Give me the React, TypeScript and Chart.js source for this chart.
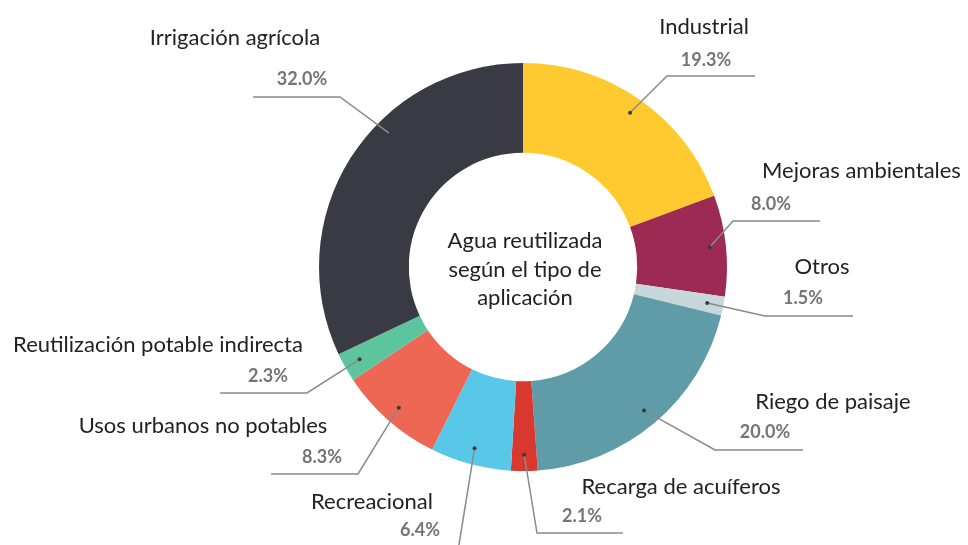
import React, { useEffect, useRef } from "react";
import { Chart, registerables } from "chart.js";

Chart.register(...registerables);

const categories = [
  "Industrial",
  "Mejoras ambientales",
  "Otros",
  "Riego de paisaje",
  "Recarga de acuíferos",
  "Recreacional",
  "Usos urbanos no potables",
  "Reutilización potable indirecta",
  "Irrigación agrícola",
];
const values = [19.3, 8.0, 1.5, 20.0, 2.1, 6.4, 8.3, 2.3, 32.0];
const colors = [
  "#FFCA2F",
  "#9C2A52",
  "#C8D7DC",
  "#5F9CA8",
  "#D9382E",
  "#59C7E8",
  "#EE6654",
  "#5CC59D",
  "#393A43",
];
const centerLines = ["Agua reutilizada", "según el tipo de", "aplicación"];

// Label layout (offsets from the doughnut centre, px)
type LabelLayout = {
  frac: number; // where along the arc the leader starts
  elbow: [number, number];
  endX: number | null;
  pct: [number, number];
  name: [number, number];
  nameAlign?: CanvasTextAlign;
};
const labelLayout: LabelLayout[] = [
  { frac: 0.5, elbow: [144, -191], endX: 232, pct: [183, -207], name: [181, -240] },
  { frac: 0.5, elbow: [210, -46], endX: 297, pct: [248, -63], name: [239, -96], nameAlign: "left" },
  { frac: 0.5, elbow: [242, 49], endX: 330, pct: [280, 31], name: [299, 0] },
  { frac: 0.5, elbow: [192, 183], endX: 280, pct: [242, 165], name: [310, 135] },
  { frac: 0.5, elbow: [14, 266], endX: 100, pct: [59, 249], name: [158, 220] },
  { frac: 0.5, elbow: [-66, 290], endX: null, pct: [-103, 263], name: [-151, 235] },
  { frac: 0.5, elbow: [-165, 207], endX: -252, pct: [-201, 190], name: [-320, 159] },
  { frac: 0.5, elbow: [-216, 126], endX: -303, pct: [-255, 109], name: [-365, 78] },
  { frac: 0.61, elbow: [-183, -170], endX: -270, pct: [-221, -188], name: [-288, -229] },
];

const leaderPlugin = {
  id: "leaderLabels",
  afterDatasetsDraw(chart: any) {
    const ctx: CanvasRenderingContext2D = chart.ctx;
    const meta = chart.getDatasetMeta(0);
    ctx.save();
    meta.data.forEach((arc: any, i: number) => {
      const L = labelLayout[i];
      const cx = arc.x;
      const cy = arc.y;
      const a = arc.startAngle + L.frac * (arc.endAngle - arc.startAngle);
      const r = arc.outerRadius * 0.92;
      const dx = cx + Math.cos(a) * r;
      const dy = cy + Math.sin(a) * r;
      const ex = cx + L.elbow[0];
      const ey = cy + L.elbow[1];
      ctx.strokeStyle = "#8a8a8a";
      ctx.lineWidth = 1.5;
      ctx.beginPath();
      ctx.moveTo(dx, dy);
      ctx.lineTo(ex, ey);
      if (L.endX !== null) ctx.lineTo(cx + L.endX, ey);
      ctx.stroke();
      ctx.fillStyle = "#3a3a3a";
      ctx.beginPath();
      ctx.arc(dx, dy, 2, 0, Math.PI * 2);
      ctx.fill();

      ctx.textBaseline = "middle";
      ctx.textAlign = "center";
      ctx.fillStyle = "#757575";
      ctx.font = "bold 18px Lato";
      ctx.fillText(values[i].toFixed(1) + "%", cx + L.pct[0], cy + L.pct[1]);
      ctx.fillStyle = "#222222";
      ctx.font = "22px Lato";
      ctx.textAlign = L.nameAlign || "center";
      ctx.fillText(categories[i], cx + L.name[0], cy + L.name[1]);
    });
    // centre text
    const first = meta.data[0];
    if (first) {
      ctx.fillStyle = "#222222";
      ctx.font = "22px Lato";
      ctx.textAlign = "center";
      ctx.textBaseline = "middle";
      centerLines.forEach((t, k) => {
        ctx.fillText(t, first.x + 2, first.y - 26 + k * 28.5);
      });
    }
    ctx.restore();
  },
};

export default function App() {
  const ref = useRef<HTMLCanvasElement | null>(null);
  useEffect(() => {
    if (!ref.current) return;
    const chart = new Chart(ref.current, {
      type: "doughnut",
      data: {
        labels: categories,
        datasets: [
          {
            data: values,
            backgroundColor: colors,
            borderWidth: 0,
          },
        ],
      },
      options: {
        responsive: false,
        animation: false,
        cutout: "56%",
        layout: { padding: { left: 319, right: 241, top: 63, bottom: 74 } },
        plugins: {
          legend: { display: false },
          tooltip: { enabled: false },
        },
      },
      plugins: [leaderPlugin],
    });
    return () => chart.destroy();
  }, []);
  return (
    <div style={{ position: "absolute", left: 0, top: 0, width: 968, height: 545, background: "#fff" }}>
      <canvas ref={ref} width={968} height={545} />
    </div>
  );
}
